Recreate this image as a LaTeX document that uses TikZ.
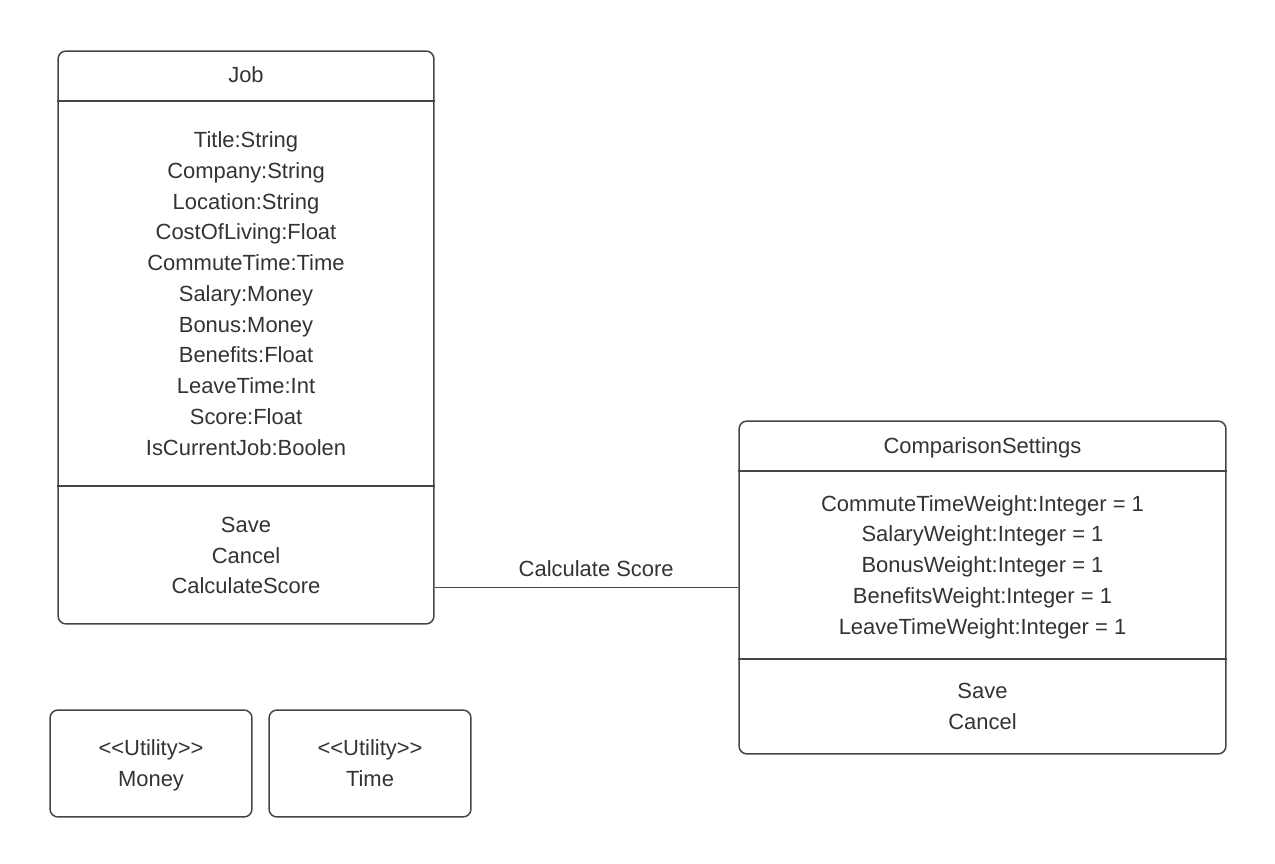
\documentclass[tikz,border=0pt]{standalone}
\usepackage{fontspec}
\setmainfont{Liberation Sans}
\definecolor{ink}{HTML}{333333}
\definecolor{edgegray}{HTML}{454545}
\tikzset{
  classbox/.style={draw=edgegray, line width=0.85pt, rounded corners=0.16cm, inner sep=0pt},
  member/.style={text=ink, align=center, inner sep=0pt, font=\fontsize{12.5}{17.5}\selectfont},
  divider/.style={draw=edgegray, line width=0.85pt}
}
\begin{document}
\begin{tikzpicture}[x=0.02cm, y=-0.02cm]
        \useasboundingbox (0,0) rectangle (1275,864);

        % classes
        \node[classbox, minimum width=7.52cm, minimum height=11.46cm] at (246, 337.5) (job) {};
        \node[classbox, minimum width=9.74cm, minimum height=6.66cm] at (982.5, 587.5) (cs) {};
        \node[classbox, minimum width=4.04cm, minimum height=2.14cm] at (151, 763.5) (money) {};
        \node[classbox, minimum width=4.04cm, minimum height=2.14cm] at (370, 763.5) (time) {};

        \draw[divider] (job.west |- 0,101) -- (job.east |- 0,101);
        \draw[divider] (job.west |- 0,486) -- (job.east |- 0,486);
        \draw[divider] (cs.west |- 0,471) -- (cs.east |- 0,471);
        \draw[divider] (cs.west |- 0,659) -- (cs.east |- 0,659);

        % texts
        \node[member] at (246, 75)    (jobname)  {Job};
        \node[member] at (246, 293.5) (jobattr)  {Title:String\\Company:String\\Location:String\\CostOfLiving:Float\\CommuteTime:Time\\Salary:Money\\Bonus:Money\\Benefits:Float\\LeaveTime:Int\\Score:Float\\IsCurrentJob:Boolen};
        \node[member] at (246, 555.5) (jobops)   {Save\\Cancel\\CalculateScore};
        \node[member] at (982.5, 448) (csname)   {ComparisonSettings};
        \node[member] at (982.5, 567) (csattr)   {CommuteTimeWeight:Integer = 1\\SalaryWeight:Integer = 1\\BonusWeight:Integer = 1\\BenefitsWeight:Integer = 1\\LeaveTimeWeight:Integer = 1};
        \node[member] at (982.5, 706.5) (csops)  {Save\\Cancel};
        \node[member] at (151, 765)   (moneytxt) {<{}<Utility>{}>\\Money};
        \node[member] at (370, 763)   (timetxt)  {<{}<Utility>{}>\\Time};

        % association
        \draw[-, divider] (job.east |- cs.west) edge node[member, pos=0.532, above=0.38cm, anchor=center] (calc) {Calculate Score} (cs.west);
      \end{tikzpicture}
\end{document}
